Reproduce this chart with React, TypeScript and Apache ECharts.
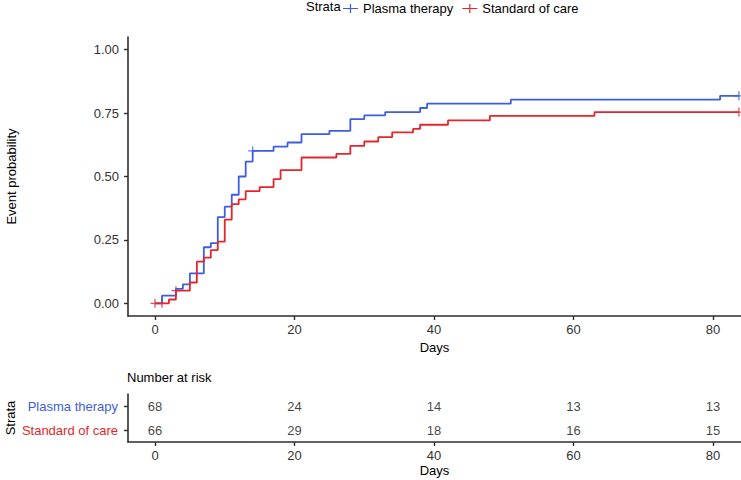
import React, { useEffect, useRef } from "react";
import * as echarts from "echarts";

// Kaplan-Meier style cumulative event probability
const plasmaTimes = [0, 1, 3, 4, 5, 7, 8, 9, 10, 11, 12, 13, 14, 17, 19, 21, 25, 28, 30, 33, 38, 39, 51, 81, 83.7];
const plasmaProb = [0, 0.03, 0.057, 0.075, 0.118, 0.221, 0.237, 0.34, 0.381, 0.428, 0.5, 0.559, 0.601, 0.618, 0.634, 0.667, 0.68, 0.726, 0.741, 0.754, 0.77, 0.787, 0.803, 0.818, 0.818];

const socTimes = [0, 2, 3, 5, 6, 7, 8, 9, 10, 11, 12, 13, 15, 17, 18, 21, 26, 28, 30, 32, 34, 37, 38, 42, 48, 63, 83.7];
const socProb = [0, 0.015, 0.05, 0.082, 0.164, 0.18, 0.21, 0.243, 0.33, 0.391, 0.41, 0.442, 0.458, 0.49, 0.525, 0.575, 0.589, 0.621, 0.638, 0.655, 0.674, 0.688, 0.704, 0.721, 0.739, 0.754, 0.754];

// censoring marks
const plasmaCensorT = [14, 83.7];
const plasmaCensorP = [0.601, 0.818];
const socCensorT = [0, 1, 3, 83.7];
const socCensorP = [0, 0, 0.05, 0.754];

// number at risk table
const riskTimes = [0, 20, 40, 60, 80];
const plasmaRisk = [68, 24, 14, 13, 13];
const socRisk = [66, 29, 18, 16, 15];

const strata = ["Plasma therapy", "Standard of care"];
const xTicks = [0, 20, 40, 60, 80];
const yTicks = [0, 0.25, 0.5, 0.75, 1];

const BLUE = "#3c5ee0";
const RED = "#e4262c";
const AX = "#2e2e2e";
const FONT = "'Liberation Sans', Arial, Helvetica, sans-serif";

const plusPath = "path://M0,4.3h10v1.4h-10z M4.3,0h1.4v10h-1.4z";
const legendPath = "path://M0,4.4h15v1.2h-15z M6.9,0.5h1.2v9h-1.2z";

function zip(a: number[], b: number[]) {
  return a.map((v, i) => [v, b[i]]);
}

export default function App() {
  const ref = useRef<HTMLDivElement>(null);
  useEffect(() => {
    const chart = echarts.init(ref.current!, null, { renderer: "svg" });
    const axisLine = { show: true, onZero: false, lineStyle: { color: AX, width: 1.6 } };
    const tickStyle = { color: AX, width: 1.4 };
    const xAxisBase = (gridIndex: number) => ({
      gridIndex,
      type: "value",
      min: -3.87,
      max: 84,
      axisLine,
      axisTick: { show: true, length: 4, customValues: xTicks, lineStyle: tickStyle },
      axisLabel: { customValues: xTicks, margin: 7, fontSize: 13, color: "#333", formatter: (v: number) => String(v) },
      splitLine: { show: false },
      name: "Days",
      nameLocation: "middle",
      nameGap: 22,
      nameTextStyle: { fontSize: 13, color: "#000" },
    });
    const option: any = {
      animation: false,
      backgroundColor: "#ffffff",
      textStyle: { fontFamily: FONT },
      legend: {
        data: strata,
        left: 343,
        top: 2,
        padding: 0,
        itemWidth: 15,
        itemHeight: 10,
        itemGap: 9,
        icon: legendPath,
        textStyle: { fontSize: 13, color: "#000", fontFamily: FONT },
      },
      graphic: [
        { type: "text", left: 306, top: 0, style: { text: "Strata", fontSize: 13, fill: "#000", font: "13px " + FONT } },
        { type: "text", left: 127, top: 371, style: { text: "Number at risk", fontSize: 13, fill: "#000", font: "13px " + FONT } },
      ],
      grid: [
        { left: 128, right: 0, top: 37, bottom: 164, outerBoundsMode: "none", containLabel: false },
        { left: 128, right: 0, top: 394, bottom: 38, outerBoundsMode: "none", containLabel: false },
      ],
      xAxis: [xAxisBase(0), xAxisBase(1)],
      yAxis: [
        {
          gridIndex: 0,
          type: "value",
          min: -0.05,
          max: 1.05,
          axisLine,
          axisTick: { show: true, length: 4, customValues: yTicks, lineStyle: tickStyle },
          axisLabel: { customValues: yTicks, margin: 9, fontSize: 13, color: "#333", formatter: (v: number) => v.toFixed(2) },
          splitLine: { show: false },
          name: "Event probability",
          nameLocation: "middle",
          nameGap: 110,
          nameRotate: 90,
          nameMoveOverlap: false,
          nameTextStyle: { fontSize: 13, color: "#000" },
        },
        {
          gridIndex: 1,
          type: "category",
          data: ["Standard of care", "Plasma therapy"],
          axisLine,
          axisTick: { show: true, length: 4, alignWithLabel: true, lineStyle: tickStyle },
          axisLabel: {
            margin: 10,
            fontSize: 13,
            formatter: (v: string) => (v === "Plasma therapy" ? "{b|" + v + "}" : "{r|" + v + "}"),
            rich: { b: { color: BLUE, fontSize: 13 }, r: { color: RED, fontSize: 13 } },
          },
          splitLine: { show: false },
          name: "Strata",
          nameLocation: "middle",
          nameGap: 111,
          nameRotate: 90,
          nameMoveOverlap: false,
          nameTextStyle: { fontSize: 13, color: "#000" },
        },
      ],
      series: [
        {
          name: "Plasma therapy",
          type: "line",
          step: "end",
          xAxisIndex: 0,
          yAxisIndex: 0,
          data: zip(plasmaTimes, plasmaProb),
          showSymbol: false,
          symbol: "none",
          lineStyle: { color: BLUE, width: 1.8 },
          itemStyle: { color: BLUE },
        },
        {
          name: "Standard of care",
          type: "line",
          step: "end",
          xAxisIndex: 0,
          yAxisIndex: 0,
          data: zip(socTimes, socProb),
          showSymbol: false,
          symbol: "none",
          lineStyle: { color: RED, width: 1.8 },
          itemStyle: { color: RED },
        },
        {
          name: "Plasma therapy",
          type: "scatter",
          xAxisIndex: 0,
          yAxisIndex: 0,
          data: zip(plasmaCensorT, plasmaCensorP),
          symbol: plusPath,
          symbolSize: 9,
          itemStyle: { color: BLUE },
        },
        {
          name: "Standard of care",
          type: "scatter",
          xAxisIndex: 0,
          yAxisIndex: 0,
          data: zip(socCensorT, socCensorP),
          symbol: plusPath,
          symbolSize: 9,
          itemStyle: { color: RED },
        },
        {
          type: "scatter",
          xAxisIndex: 1,
          yAxisIndex: 1,
          data: riskTimes
            .map((t, i) => [t, "Plasma therapy", plasmaRisk[i]])
            .concat(riskTimes.map((t, i) => [t, "Standard of care", socRisk[i]])),
          symbolSize: 1,
          itemStyle: { color: "rgba(0,0,0,0)" },
          label: {
            show: true,
            position: "inside",
            fontSize: 13,
            color: "#111",
            formatter: (p: any) => String(p.value[2]),
          },
          silent: true,
        },
      ],
    };
    chart.setOption(option);
    return () => chart.dispose();
  }, []);
  return (
    <div
      ref={ref}
      style={{ position: "absolute", left: 0, top: 0, width: 741, height: 480, background: "#fff" }}
    />
  );
}
